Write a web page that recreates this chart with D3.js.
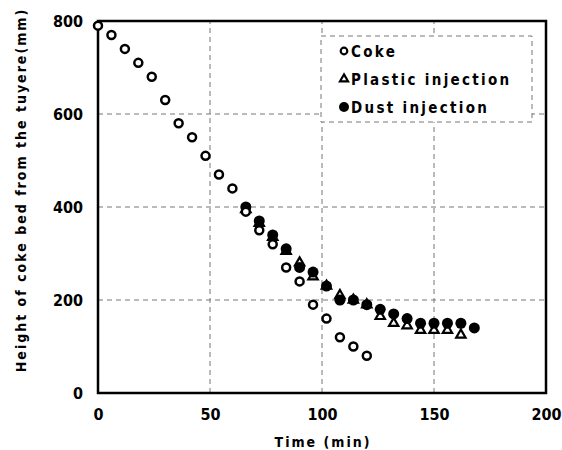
<!DOCTYPE html>
<html>
<head>
<meta charset="utf-8">
<script src="https://cdn.jsdelivr.net/npm/d3@7.9.0/dist/d3.min.js"></script>
<style>
  body { margin: 0; background: #fff; }
  svg text { font-family: 'DejaVu Sans Condensed', 'DejaVu Sans', sans-serif; font-weight: bold; fill: #000; }
</style>
</head>
<body>
<svg width="562" height="450"></svg>
<script>
// time (min) and coke bed height (mm) per series
const cokeTime = [0, 6, 12, 18, 24, 30, 36, 42, 48, 54, 60, 66, 72, 78, 84, 90, 96, 102, 108, 114, 120];
const cokeHeight = [790, 770, 740, 710, 680, 630, 580, 550, 510, 470, 440, 390, 350, 320, 270, 240, 190, 160, 120, 100, 80];

const plasticTime = [66, 72, 78, 84, 90, 96, 102, 108, 114, 120, 126, 132, 138, 144, 150, 156, 162];
const plasticHeight = [395, 365, 335, 305, 280, 250, 230, 210, 200, 190, 165, 150, 145, 135, 135, 135, 125];

const dustTime = [66, 72, 78, 84, 90, 96, 102, 108, 114, 120, 126, 132, 138, 144, 150, 156, 162, 168];
const dustHeight = [400, 370, 340, 310, 270, 260, 230, 200, 200, 190, 180, 170, 160, 150, 150, 150, 150, 140];

const xTicks = [0, 50, 100, 150, 200];
const yTicks = [0, 200, 400, 600, 800];
const legendLabels = ['Coke', 'Plastic injection', 'Dust injection'];

const svg = d3.select('svg');
const x = d3.scaleLinear().domain([0, 200]).range([98, 546]);
const y = d3.scaleLinear().domain([0, 800]).range([393, 21]);

// grid
const grid = svg.append('g').attr('stroke', '#777').attr('stroke-width', 1).attr('stroke-dasharray', '5,4');
xTicks.slice(1, -1).forEach((t) => {
  grid.append('line').attr('x1', x(t)).attr('x2', x(t)).attr('y1', y(0)).attr('y2', y(800));
});
yTicks.slice(1, -1).forEach((t) => {
  grid.append('line').attr('x1', x(0)).attr('x2', x(200)).attr('y1', y(t)).attr('y2', y(t));
});

// frame
svg.append('rect')
  .attr('x', x(0)).attr('y', y(800))
  .attr('width', x(200) - x(0)).attr('height', y(0) - y(800))
  .attr('fill', 'none').attr('stroke', '#000').attr('stroke-width', 2.5);

// axes labels
const xAxis = svg.append('g').attr('transform', `translate(0,${y(0)})`)
  .call(d3.axisBottom(x).tickValues(xTicks).tickSize(0).tickPadding(16));
const yAxis = svg.append('g').attr('transform', `translate(${x(0)},0)`)
  .call(d3.axisLeft(y).tickValues(yTicks).tickSize(0).tickPadding(15));
[xAxis, yAxis].forEach((a) => {
  a.select('.domain').remove();
  a.selectAll('text').style('font-size', '16px').attr('fill', '#000');
});

svg.append('text')
  .attr('x', 323).attr('y', 447)
  .attr('text-anchor', 'middle')
  .style('font-size', '14px').style('letter-spacing', '2px')
  .text('Time (min)');

svg.append('text')
  .attr('transform', 'translate(26,190) rotate(-90)')
  .attr('text-anchor', 'middle')
  .style('font-size', '14px').style('letter-spacing', '2px')
  .text('Height of coke bed from the tuyere(mm)');

// markers
const tri = d3.symbol().type(d3.symbolTriangle).size(38);

svg.append('g').selectAll('path')
  .data(d3.zip(plasticTime, plasticHeight))
  .join('path')
  .attr('d', tri)
  .attr('transform', (d) => `translate(${x(d[0])},${y(d[1])})`)
  .attr('fill', '#fff').attr('stroke', '#000').attr('stroke-width', 2.2);

svg.append('g').selectAll('circle')
  .data(d3.zip(dustTime, dustHeight))
  .join('circle')
  .attr('cx', (d) => x(d[0])).attr('cy', (d) => y(d[1]))
  .attr('r', 5.5).attr('fill', '#000');

svg.append('g').selectAll('circle')
  .data(d3.zip(cokeTime, cokeHeight))
  .join('circle')
  .attr('cx', (d) => x(d[0])).attr('cy', (d) => y(d[1]))
  .attr('r', 4).attr('fill', '#fff').attr('stroke', '#000').attr('stroke-width', 2.5);

// legend
const lg = svg.append('g');
lg.append('rect')
  .attr('x', 321).attr('y', 36).attr('width', 211).attr('height', 86)
  .attr('fill', '#fff').attr('stroke', '#777').attr('stroke-width', 1).attr('stroke-dasharray', '5,4');
const rowY = [51, 79, 107];
legendLabels.forEach((label, i) => {
  const cx = 344, cy = rowY[i];
  if (i === 0) {
    lg.append('circle').attr('cx', cx).attr('cy', cy).attr('r', 3.3)
      .attr('fill', '#fff').attr('stroke', '#000').attr('stroke-width', 2.2);
  } else if (i === 1) {
    lg.append('path').attr('d', d3.symbol().type(d3.symbolTriangle).size(28)).attr('transform', `translate(${cx},${cy})`)
      .attr('fill', '#fff').attr('stroke', '#000').attr('stroke-width', 2.2);
  } else {
    lg.append('circle').attr('cx', cx).attr('cy', cy).attr('r', 5).attr('fill', '#000');
  }
  lg.append('text')
    .attr('x', 351).attr('y', cy + 5.5)
    .style('font-size', '15px').style('letter-spacing', '2.3px')
    .text(label);
});
</script>
</body>
</html>
